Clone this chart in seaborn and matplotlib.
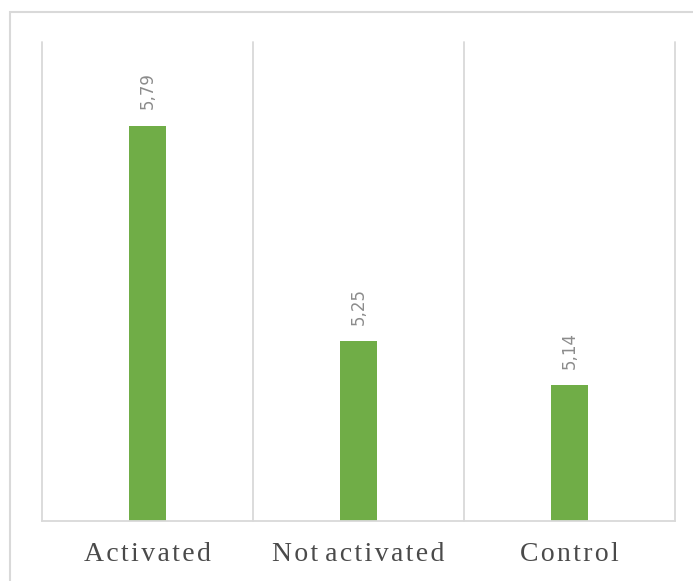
import matplotlib
matplotlib.use("Agg")
import matplotlib.pyplot as plt
import seaborn as sns
import pandas as pd
from matplotlib.patches import Rectangle

categories = ["Activated", "Not activated", "Control"]
values = [5.79, 5.25, 5.14]
value_labels = ["5,79", "5,25", "5,14"]

sns.set_style("white")
plt.rcParams['font.family'] = ['DejaVu Sans']

W, H = 693, 581
fig = plt.figure(figsize=(W / 100, H / 100), dpi=100)
ax = fig.add_axes([42 / W, (H - 521) / H, 633 / W, 479 / H])

df = pd.DataFrame({"cat": categories, "val": values})
sns.barplot(data=df, x="cat", y="val", color="#70AD47", width=0.18, ax=ax,
            saturation=1, linewidth=0)

ax.set_ylim(4.8, 6.0)
ax.set_xlim(-0.5, len(categories) - 0.5)
ax.set_yticks([])
ax.set_xlabel("")
ax.set_ylabel("")

for i in range(len(categories) + 1):
    ax.axvline(i - 0.5, color="#d9d9d9", lw=1.3, zorder=0, clip_on=False)

for s in ["left", "top", "right"]:
    ax.spines[s].set_visible(False)
ax.spines["bottom"].set_color("#d9d9d9")
ax.spines["bottom"].set_linewidth(1.3)

ax.tick_params(axis="x", length=0, pad=15)
ax.set_xticks(range(len(categories)))
spaced = ["\u200a".join(c).replace("\u200a \u200a", " ") for c in categories]
ax.set_xticklabels(spaced, fontfamily=["Liberation Serif", "DejaVu Serif"],
                   fontsize=20, color="#4a4a4a")

ax.bar_label(ax.containers[0], labels=value_labels, rotation=90, padding=12,
             fontsize=12, color="#8c8c8c")

fig.patches.append(Rectangle((10 / W, -0.1), 1.0, (H - 12) / H + 0.1,
                             transform=fig.transFigure, fill=False,
                             ec="#d9d9d9", lw=1.5))

fig.savefig("out.png", dpi=100)
